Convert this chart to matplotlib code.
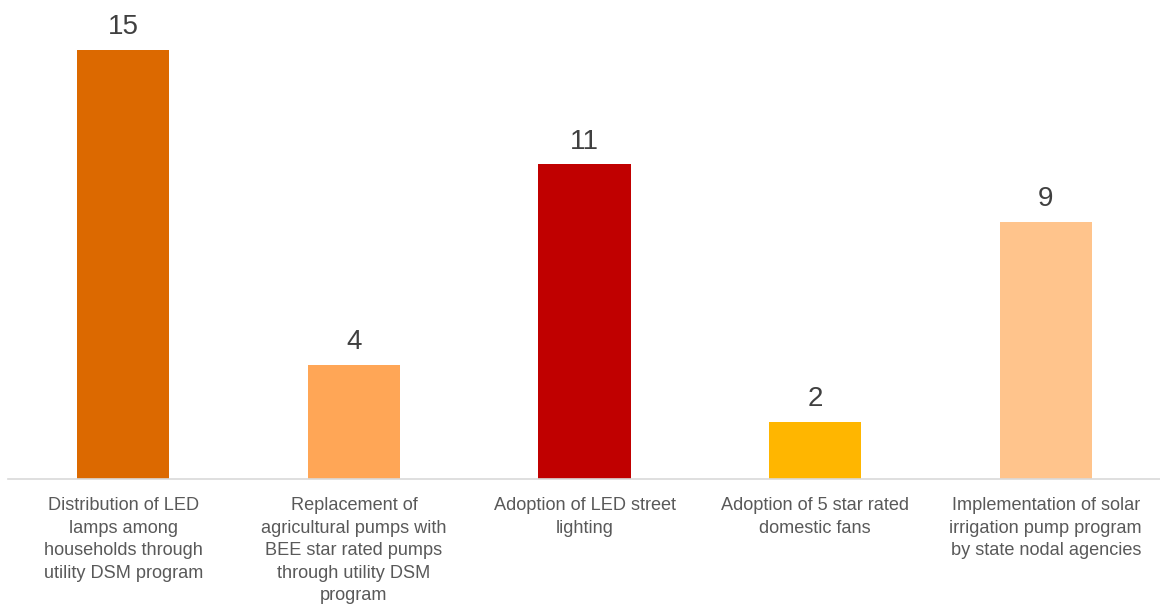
import matplotlib.pyplot as plt

plt.rcParams['font.family'] = ['Liberation Sans', 'DejaVu Sans']

# Chart data
categories = [
    "Distribution of LED\nlamps among\nhouseholds through\nutility DSM program",
    "Replacement of\nagricultural pumps with\nBEE star rated pumps\nthrough utility DSM\nprogram",
    "Adoption of LED street\nlighting",
    "Adoption of 5 star rated\ndomestic fans",
    "Implementation of solar\nirrigation pump program\nby state nodal agencies",
]
values = [15, 4, 11, 2, 9]
colors = ['#DC6900', '#FFA656', '#C00000', '#FFB600', '#FFC48C']

fig = plt.figure(figsize=(11.6, 6.09), dpi=100)
ax = fig.add_axes([8 / 1160, 130 / 609, 1153 / 1160, 479 / 609])

x = range(len(values))
bars = ax.bar(x, values, width=0.4, color=colors)

# Value labels above bars
for xi, v in zip(x, values):
    ax.annotate(str(v), (xi, v), xytext=(0, 7), textcoords='offset points',
                ha='center', va='bottom', fontsize=20, color='#404040')

ax.set_xlim(-0.5, len(values) - 0.5)
ax.set_ylim(0, 16.75)
ax.set_xticks(list(x))
ax.set_xticklabels(categories, fontsize=13.1, color='#595959', linespacing=1.43)
ax.tick_params(axis='x', length=0, pad=13)
ax.set_yticks([])

for side in ['top', 'right', 'left']:
    ax.spines[side].set_visible(False)
ax.spines['bottom'].set_color('#D9D9D9')
ax.spines['bottom'].set_linewidth(1.2)

fig.savefig('out.png', dpi=100)
